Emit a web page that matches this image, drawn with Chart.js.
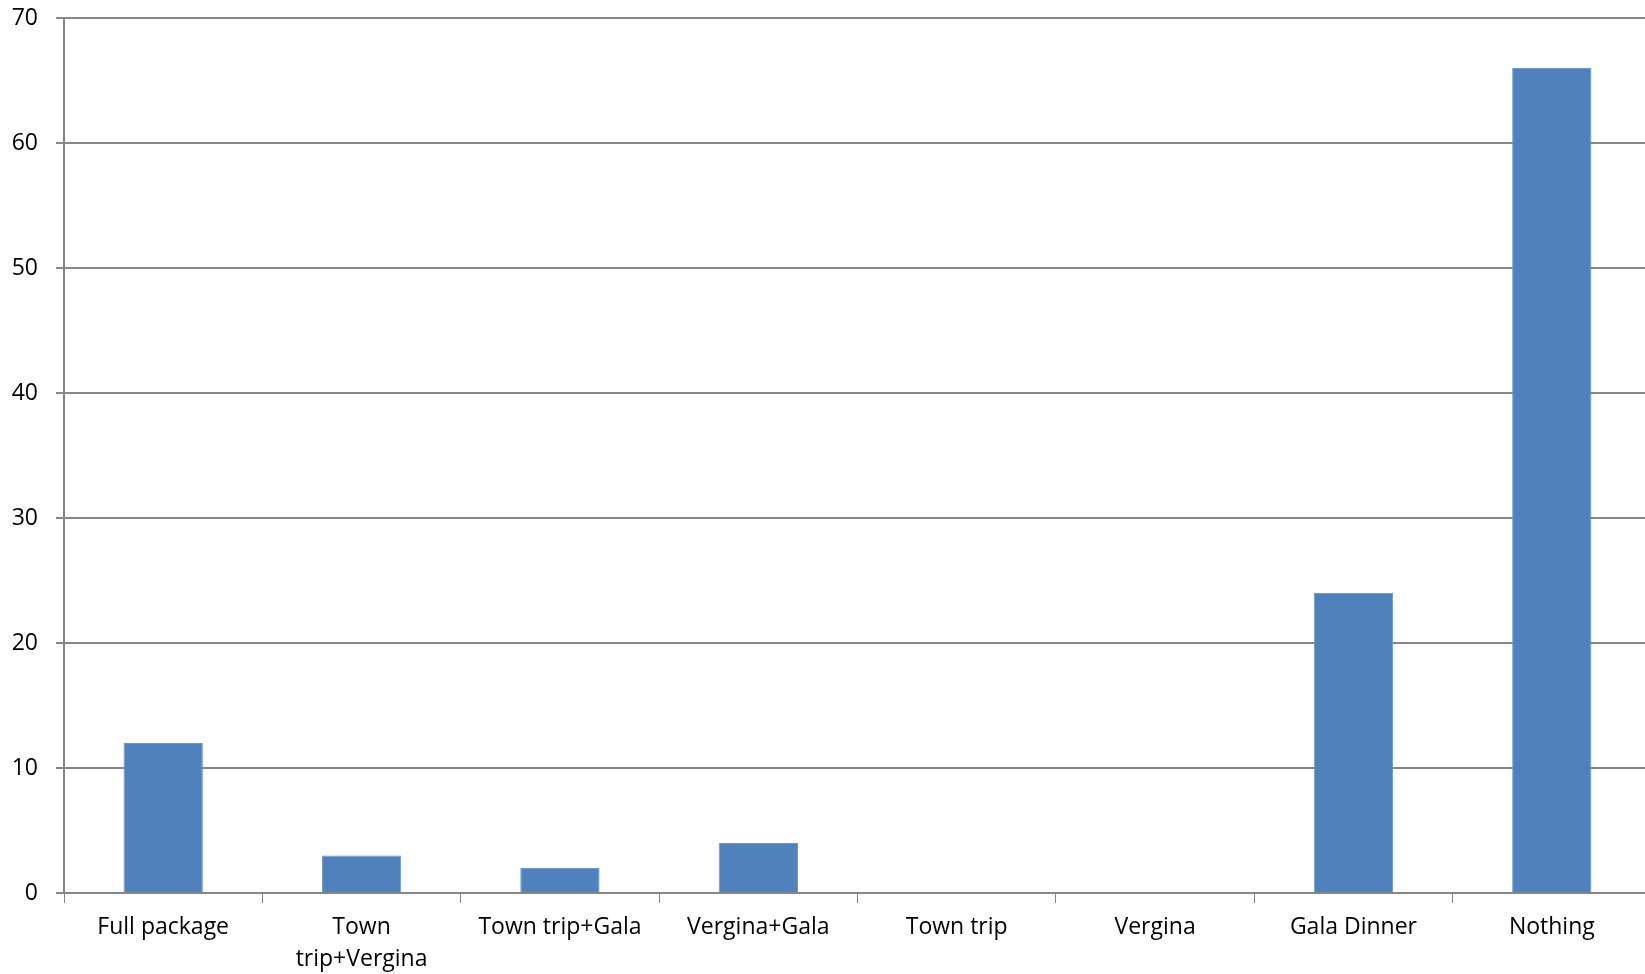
<!DOCTYPE html>
<html>
<head>
<meta charset="utf-8">
<script src="https://cdn.jsdelivr.net/npm/chart.js@4/dist/chart.umd.min.js"></script>
<style>
    html, body { margin: 0; padding: 0; background: #ffffff; overflow: hidden; }
    #wrap { width: 1645px; height: 974px; overflow: hidden; }
</style>
</head>
<body>
<div id="wrap"><canvas id="myChart" width="1651" height="974"></canvas></div>
<script>
const categories = ["Full package", ["Town", "trip+Vergina"], "Town trip+Gala", "Vergina+Gala", "Town trip", "Vergina", "Gala Dinner", "Nothing"];
const counts = [12, 3, 2, 4, 0, 0, 24, 66];
const yTicks = [0, 10, 20, 30, 40, 50, 60, 70];

const gridColor = "#878787";
const fontFamily = "'Open Sans', 'DejaVu Sans', sans-serif";

function createChart() {
    const ctx = document.getElementById("myChart").getContext("2d");

    // the plot runs a few pixels past the right edge of the picture
    window.myChart = new Chart(ctx, {
        type: "bar",
        data: {
            labels: categories,
            datasets: [{
                label: "Count",
                data: counts,
                backgroundColor: "#4F81BD",
                borderColor: "#6f97cb",
                borderWidth: 1,
                barPercentage: 0.4,
                categoryPercentage: 1
            }]
        },
        options: {
            responsive: false,
            animation: false,
            layout: { padding: { top: 18, right: 0, left: 0, bottom: 0 } },
            plugins: {
                legend: { display: false },
                tooltip: { enabled: false }
            },
            scales: {
                x: {
                    grid: {
                        offset: true,
                        drawOnChartArea: false,
                        drawTicks: true,
                        tickLength: 10,
                        color: gridColor
                    },
                    border: { color: gridColor, width: 2 },
                    ticks: {
                        color: "#000000",
                        padding: 9,
                        maxRotation: 0,
                        autoSkip: false,
                        font: { family: fontFamily, size: 23, lineHeight: 1.38 }
                    },
                    afterFit: function (scale) {
                        scale.height = 81;
                        scale.paddingLeft = 0;
                        scale.paddingRight = 0;
                    }
                },
                y: {
                    min: 0,
                    max: 70,
                    afterBuildTicks: function (scale) {
                        scale.ticks = yTicks.map(v => ({ value: v }));
                    },
                    grid: {
                        color: gridColor,
                        lineWidth: 2,
                        drawTicks: true,
                        tickLength: 8
                    },
                    border: { color: gridColor, width: 2 },
                    ticks: {
                        color: "#000000",
                        padding: 18,
                        font: { family: fontFamily, size: 23 }
                    },
                    afterFit: function (scale) {
                        scale.width = 64;
                        scale.paddingTop = 0;
                        scale.paddingBottom = 0;
                    }
                }
            }
        }
    });
}

createChart();
</script>
</body>
</html>
